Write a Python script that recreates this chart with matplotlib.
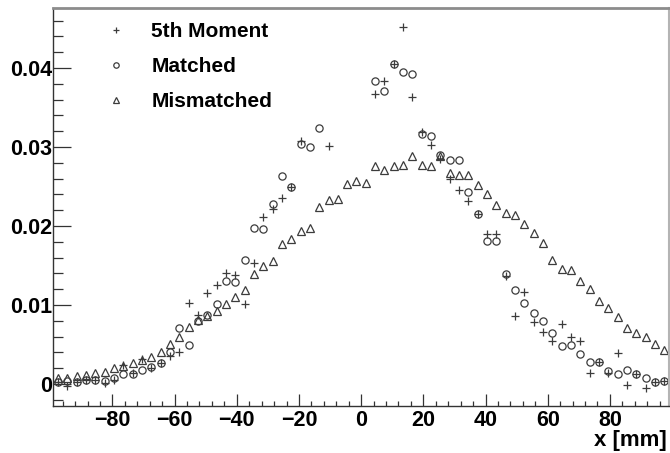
import numpy as np
import matplotlib
matplotlib.use("Agg")
import matplotlib.pyplot as plt
from matplotlib.ticker import FixedLocator, MultipleLocator, FixedFormatter

plt.rcParams['font.family'] = ['Liberation Sans', 'DejaVu Sans']
plt.rcParams['font.weight'] = 'bold'

nan = np.nan
# bin centres: 66 bins of 3 mm between -99 and 99
x_lo, x_hi, n_bins = -99.0, 99.0, 66
x = np.linspace(x_lo, x_hi, n_bins + 1)[:-1] + (x_hi - x_lo) / n_bins / 2

fifth_moment = [0.0003, -0.0003, 0.0003, 0.0005, 0.0005, 0.0001, 0.0005, 0.0024, 0.0014, 0.0032,
                0.0020, 0.0027, 0.0036, 0.0040, 0.0103, 0.0087, 0.0115, 0.0125, 0.0140, 0.0138,
                0.0101, 0.0153, 0.0212, 0.0222, 0.0235, 0.0249, 0.0308, nan, nan, 0.0301,
                nan, nan, nan, nan, 0.0367, 0.0384, 0.0405, 0.0452, 0.0363, 0.0319,
                0.0302, 0.0285, 0.0260, 0.0245, 0.0232, 0.0215, 0.0190, 0.0190, 0.0137, 0.0086,
                0.0116, 0.0079, 0.0066, 0.0054, 0.0076, 0.0059, 0.0054, 0.0014, 0.0028, 0.0014,
                0.0039, -0.0001, 0.0013, -0.0005, 0.0003, 0.0004]

matched = [0.0003, 0.0004, 0.0003, 0.0005, 0.0005, 0.0004, 0.0008, 0.0013, 0.0013, 0.0018,
           0.0022, 0.0027, 0.0041, 0.0071, 0.0049, 0.0080, 0.0087, 0.0101, 0.0130, 0.0129,
           0.0157, 0.0198, 0.0196, 0.0228, 0.0263, 0.0249, 0.0304, 0.0300, 0.0324, nan,
           nan, nan, nan, nan, 0.0384, 0.0371, 0.0405, 0.0395, 0.0392, 0.0317,
           0.0314, 0.0290, 0.0283, 0.0283, 0.0243, 0.0215, 0.0181, 0.0181, 0.0139, 0.0119,
           0.0102, 0.0090, 0.0080, 0.0064, 0.0048, 0.0049, 0.0038, 0.0028, 0.0028, 0.0016,
           0.0013, 0.0018, 0.0013, 0.0007, 0.0003, 0.0004]

mismatched = [0.0007, 0.0008, 0.0010, 0.0011, 0.00135, 0.0015, 0.0020, 0.0023, 0.0026, 0.0030,
              0.0034, 0.0040, 0.0051, 0.0060, 0.0072, 0.0081, 0.0086, 0.0092, 0.0101, 0.0110,
              0.0119, 0.0139, 0.0150, 0.0156, 0.0177, 0.0184, 0.0194, 0.0198, 0.0224, 0.0233,
              0.0234, 0.0253, 0.0257, 0.0254, 0.0276, 0.0271, 0.0276, 0.0277, 0.0289, 0.0277,
              0.0276, 0.0289, 0.0267, 0.0265, 0.0265, 0.0252, 0.0240, 0.0227, 0.0217, 0.0214,
              0.0202, 0.0191, 0.0178, 0.0157, 0.0145, 0.0144, 0.0130, 0.0120, 0.0105, 0.0096,
              0.0085, 0.0071, 0.0064, 0.0059, 0.0051, 0.0043]

series_labels = ["5th Moment", "Matched", "Mismatched"]
y_ticks = [0.0, 0.01, 0.02, 0.03, 0.04]
y_tick_labels = ["0", "0.01", "0.02", "0.03", "0.04"]
x_ticks = [-80, -60, -40, -20, 0, 20, 40, 60, 80]
x_tick_labels = ["\u221280", "\u221260", "\u221240", "\u221220", "0", "20", "40", "60", "80"]
x_label = "x [mm]"

fig = plt.figure(figsize=(6.70, 4.53), dpi=100)
ax = fig.add_axes([0.0796, 0.1038, 0.9189, 0.8785])

mc = '#3c3c3c'
h1, = ax.plot(x, fifth_moment, linestyle='none', marker='+', markersize=6.0,
              markeredgewidth=0.9, color=mc, label=series_labels[0])
h2, = ax.plot(x, matched, linestyle='none', marker='o', markersize=5.2,
              markerfacecolor='none', markeredgewidth=0.9, markeredgecolor=mc, label=series_labels[1])
h3, = ax.plot(x, mismatched, linestyle='none', marker='^', markersize=5.6,
              markerfacecolor='none', markeredgewidth=0.9, markeredgecolor=mc, label=series_labels[2])

ax.set_xlim(x_lo, x_hi)
ax.set_ylim(-0.00278, 0.0476)

ax.yaxis.set_major_locator(FixedLocator(y_ticks))
ax.yaxis.set_major_formatter(FixedFormatter(y_tick_labels))
ax.yaxis.set_minor_locator(MultipleLocator(0.002))
ax.xaxis.set_major_locator(FixedLocator(x_ticks))
ax.xaxis.set_major_formatter(FixedFormatter(x_tick_labels))
ax.xaxis.set_minor_locator(MultipleLocator(4))

ax.tick_params(axis='y', which='major', direction='in', length=13, width=0.9, color='#333333',
               labelsize=15.5, pad=1, left=True, right=False)
ax.tick_params(axis='y', which='minor', direction='in', length=7, width=0.9, color='#333333',
               left=True, right=False)
ax.tick_params(axis='x', which='major', direction='in', length=8.5, width=0.9, color='#333333',
               labelsize=15.5, pad=3, bottom=True, top=False)
ax.tick_params(axis='x', which='minor', direction='in', length=3.5, width=0.9, color='#333333',
               bottom=True, top=False)
for lab in ax.get_xticklabels() + ax.get_yticklabels():
    lab.set_fontweight('bold')

ax.spines['left'].set_color('#333333')
ax.spines['left'].set_linewidth(1.0)
ax.spines['bottom'].set_color('#333333')
ax.spines['bottom'].set_linewidth(1.0)
ax.spines['top'].set_color('#8c8c8c')
ax.spines['top'].set_linewidth(2.0)
ax.spines['right'].set_color('#b4b4b4')
ax.spines['right'].set_linewidth(1.5)

fig.text(0.9955, 0.004, x_label, ha='right', va='bottom', fontsize=16, fontweight='bold')

leg = ax.legend(handles=[h1, h2, h3], loc='upper left', bbox_to_anchor=(0.085, 0.965),
                frameon=False, fontsize=15, markerscale=0.75, handlelength=1.0,
                handletextpad=1.2, labelspacing=0.78, borderpad=0, borderaxespad=0)
for t in leg.get_texts():
    t.set_fontweight('bold')

fig.savefig("out.png", dpi=100)
